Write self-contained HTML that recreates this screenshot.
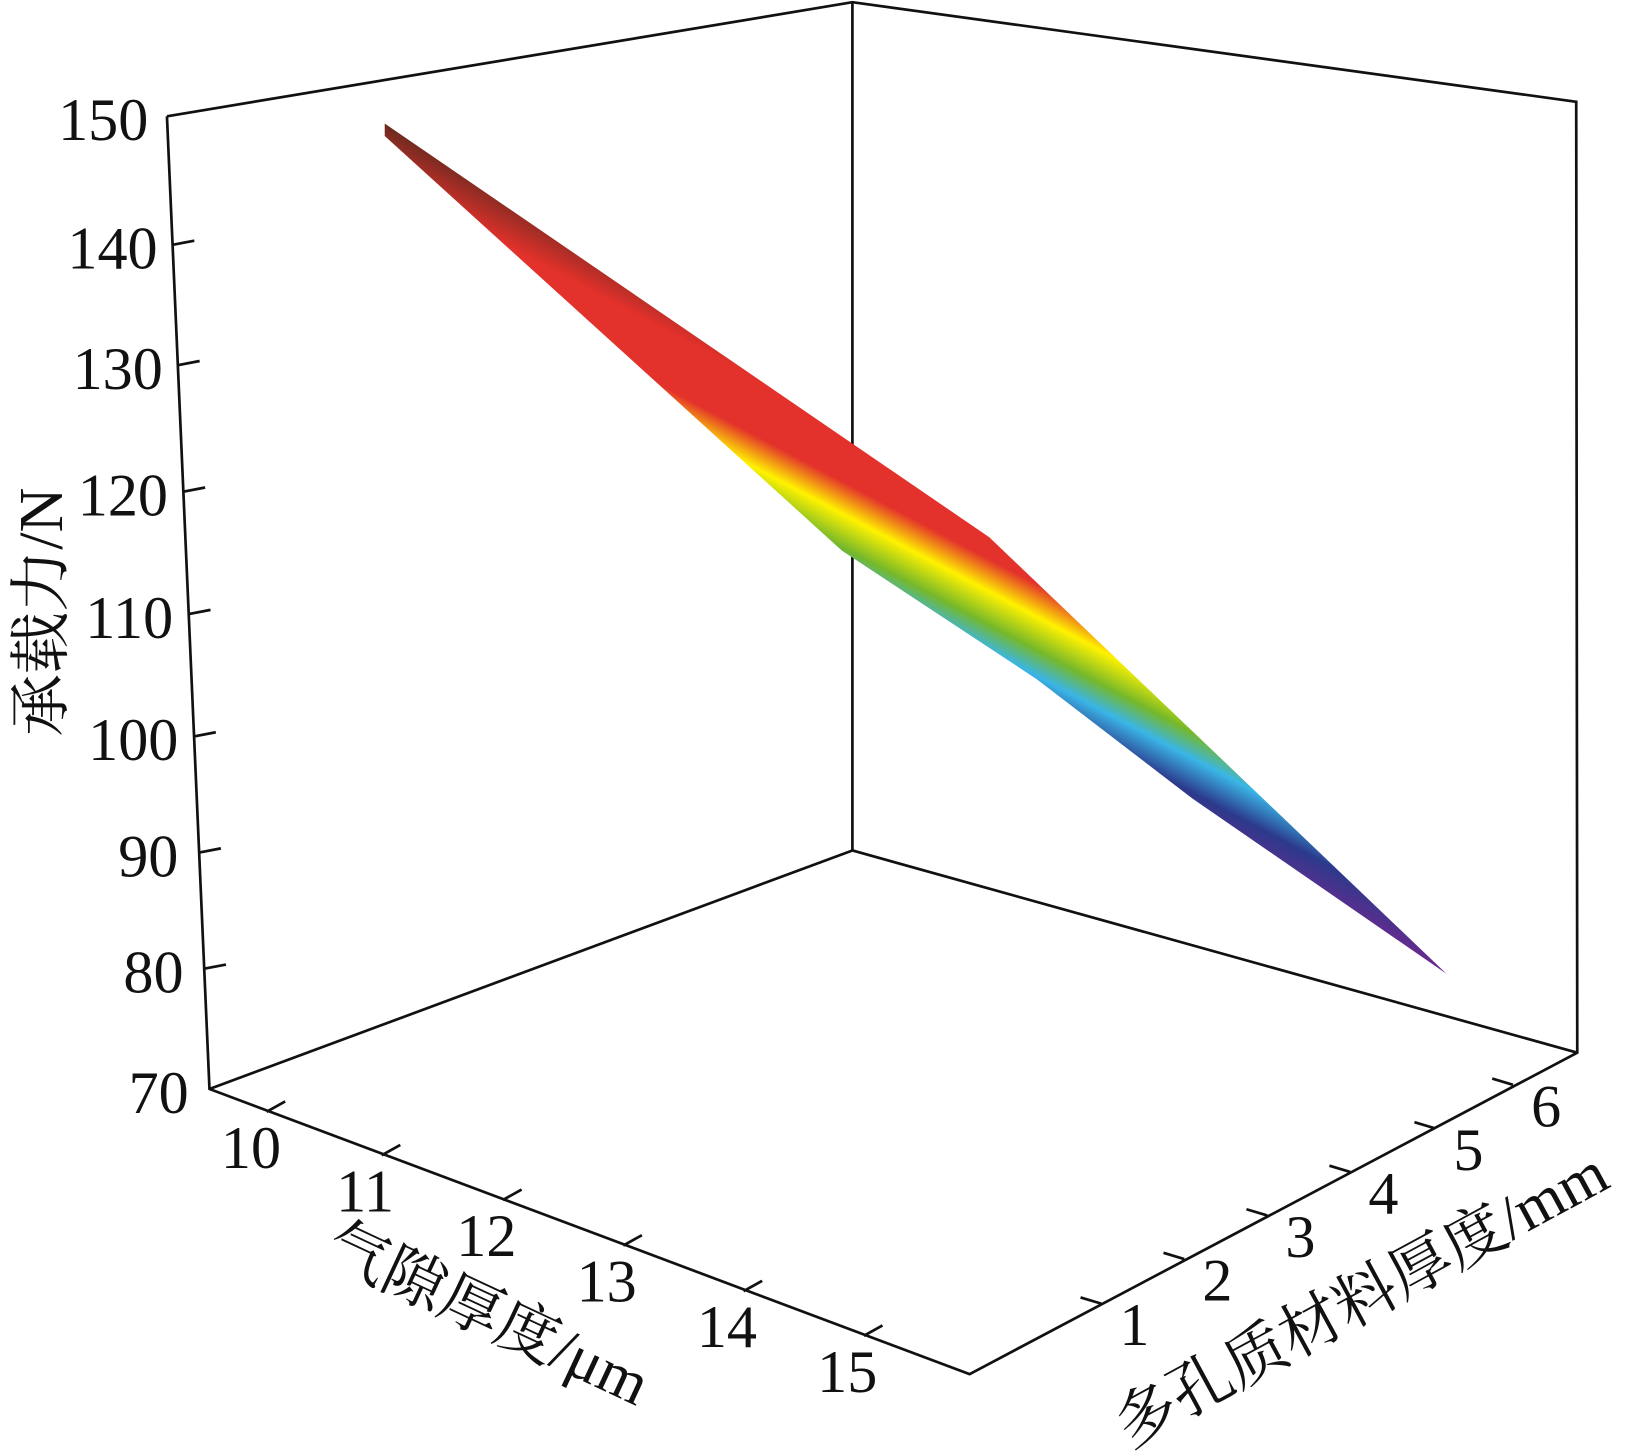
<!DOCTYPE html>
<html><head><meta charset="utf-8"><style>
html,body{margin:0;padding:0;background:#fff;}
svg{display:block;}
text{font-family:"Liberation Serif","Noto Serif CJK SC",serif;fill:#111;}
</style></head><body>
<svg width="1626" height="1451" viewBox="0 0 1568 1399" xmlns="http://www.w3.org/2000/svg">
<defs>
<linearGradient id="g" gradientUnits="userSpaceOnUse" x1="31.8" y1="-60.1" x2="-82.8" y2="156.5">
<stop offset="0" stop-color="#6b2a20"/>
<stop offset="0.2" stop-color="#e3312b"/>
<stop offset="0.4" stop-color="#e3312b"/>
<stop offset="0.514" stop-color="#fff200"/>
<stop offset="0.63" stop-color="#76b82a"/>
<stop offset="0.72" stop-color="#3ab6e6"/>
<stop offset="0.84" stop-color="#2c3a8c"/>
<stop offset="1" stop-color="#6a2a8e"/>
</linearGradient>
</defs>
<g stroke="#111" stroke-width="2.6" fill="none" stroke-linejoin="miter">
<polyline points="161,112 822,2 1520,98 1521,1015 935,1325 202,1050 161,112"/>
<line x1="822" y1="2" x2="822" y2="820"/>
<line x1="822" y1="820" x2="202" y2="1050"/>
<line x1="822" y1="820" x2="1521" y2="1015"/>
<line x1="166.4" y1="236" x2="187.4" y2="232"/>
<line x1="171.5" y1="352" x2="192.5" y2="348"/>
<line x1="176.8" y1="474" x2="197.8" y2="470"/>
<line x1="182" y1="592" x2="203" y2="588"/>
<line x1="187.1" y1="710" x2="208.1" y2="706"/>
<line x1="192" y1="822" x2="213" y2="818"/>
<line x1="196.9" y1="934" x2="217.9" y2="930"/>
<line x1="257" y1="1072" x2="275" y2="1062"/>
<line x1="368" y1="1114" x2="386" y2="1104"/>
<line x1="485" y1="1157" x2="503" y2="1147"/>
<line x1="601" y1="1201" x2="619" y2="1191"/>
<line x1="717" y1="1245" x2="735" y2="1235"/>
<line x1="833" y1="1288" x2="851" y2="1278"/>
<line x1="1062" y1="1257" x2="1042" y2="1251"/>
<line x1="1142" y1="1214" x2="1122" y2="1208"/>
<line x1="1222" y1="1172" x2="1202" y2="1166"/>
<line x1="1302" y1="1130" x2="1282" y2="1124"/>
<line x1="1384" y1="1088" x2="1364" y2="1082"/>
<line x1="1459" y1="1046" x2="1439" y2="1040"/>
</g>
<polygon fill="url(#g)" points="371,119 954,518 1395,939 1150,770 1000,655 812,531 371,131"/>
<g font-size="58" text-anchor="end">
<text x="143" y="135">150</text>
<text x="152" y="259">140</text>
<text x="157" y="375">130</text>
<text x="162" y="497">120</text>
<text x="167" y="615">110</text>
<text x="172" y="733">100</text>
<text x="172" y="845">90</text>
<text x="177" y="957">80</text>
<text x="182" y="1073">70</text>
</g>
<g font-size="58" text-anchor="middle">
<text x="242" y="1126">10</text>
<text x="352" y="1168">11</text>
<text x="469" y="1211">12</text>
<text x="585" y="1255">13</text>
<text x="701" y="1299">14</text>
<text x="817" y="1342">15</text>
<text x="1094" y="1297">1</text>
<text x="1174" y="1254">2</text>
<text x="1254" y="1212">3</text>
<text x="1334" y="1170">4</text>
<text x="1416" y="1128">5</text>
<text x="1491" y="1086">6</text>
</g>
<g font-size="60" text-anchor="middle">
<text transform="translate(60,590) rotate(-90)">承载力/N</text>
<text transform="translate(462,1285) rotate(25)">气隙厚度/μm</text>
<text transform="translate(1322,1270) rotate(-28.5)">多孔质材料厚度/mm</text>
</g>
</svg>
</body></html>
